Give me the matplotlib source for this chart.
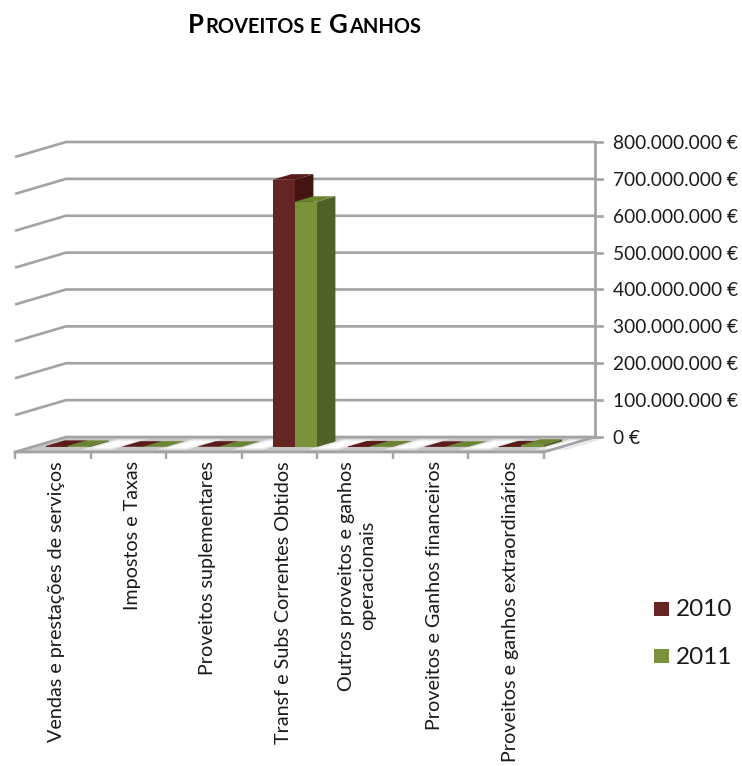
import matplotlib
matplotlib.use('Agg')
import matplotlib.pyplot as plt
from matplotlib.patches import Polygon, Rectangle

plt.rcParams['font.family'] = ['Lato', 'DejaVu Sans']

categories = ['Vendas e prestações de serviços', 'Impostos e Taxas', 'Proveitos suplementares',
              'Transf e Subs Correntes Obtidos', 'Outros proveitos e ganhos\noperacionais',
              'Proveitos e Ganhos financeiros', 'Proveitos e ganhos extraordinários']
values_2010 = [3000000, 800000, 800000, 725000000, 1500000, 500000, 1500000]
values_2011 = [3000000, 800000, 500000, 665000000, 1500000, 500000, 6000000]
y_ticks = [0, 100000000, 200000000, 300000000, 400000000, 500000000, 600000000, 700000000, 800000000]
y_labels = ['0 €', '100.000.000 €', '200.000.000 €', '300.000.000 €', '400.000.000 €',
            '500.000.000 €', '600.000.000 €', '700.000.000 €', '800.000.000 €']

W, H = 742, 766
PX_CAT = 75.57
PX_VAL = 295 / 800000000
# oblique offset of the back wall, in pixels
DEPTH_X, DEPTH_Y = 51, 15

fig = plt.figure(figsize=(W / 100, H / 100), dpi=100)
ax = fig.add_axes([0, 0, 1, 1])
ax.set_xlim(-15 / PX_CAT, (W - 15) / PX_CAT)
ax.set_ylim(-(H - 452) / PX_VAL, 452 / PX_VAL)
ax.axis('off')


def proj(x, v, d):
    return (x + d * DEPTH_X / PX_CAT, v + d * DEPTH_Y / PX_VAL)


def face(points, color, z=2, lw=0):
    ax.add_patch(Polygon([proj(*p) for p in points], closed=True, facecolor=color,
                         edgecolor=color, linewidth=lw, zorder=z))


n = len(categories)
GRID = '#a3a3a3'

# floor
face([(0, 0, 0), (n, 0, 0), (n, 0, 1), (0, 0, 1)], '#c6c6c6', z=1)
bar_w = 22 / PX_CAT
bar_start = 14 / PX_CAT
d0, d1 = 0.33, 0.70
for i in range(n):
    s0 = i + bar_start + 2 * bar_w
    s1 = i + 1 + bar_start
    face([(s0, 0, 0.15), (s1, 0, 0.15), (s1, 0, 0.85), (s0, 0, 0.85)], '#e6e6e6', z=1.1)
    face([(s0 + 0.08, 0, 0.25), (s1 - 0.08, 0, 0.25), (s1 - 0.08, 0, 0.75), (s0 + 0.08, 0, 0.75)], 'white', z=1.2)

# walls
for v in y_ticks:
    a = proj(0, v, 0)
    b = proj(0, v, 1)
    c = proj(n, v, 1)
    ax.plot([a[0], b[0], c[0]], [a[1], b[1], c[1]], color=GRID, lw=1.9, zorder=1.5,
            solid_joinstyle='miter', solid_capstyle='butt')

# front and right floor edges, value axis and ticks
fr = proj(n, 0, 0)
br = proj(n, 0, 1)
fl = proj(0, 0, 0)
ax.plot([fl[0], fr[0], br[0]], [fl[1], fr[1], br[1]], color=GRID, lw=2, zorder=1.6)
top = proj(n, y_ticks[-1], 1)
ax.plot([br[0], top[0]], [br[1], top[1]], color=GRID, lw=2, zorder=1.6)
tick_x = 7 / PX_CAT
for v, lab in zip(y_ticks, y_labels):
    p = proj(n, v, 1)
    ax.plot([p[0], p[0] + tick_x], [p[1], p[1]], color=GRID, lw=1.9, zorder=1.6)
    ax.text(p[0] + 18 / PX_CAT, p[1] - 1.5 / PX_VAL, lab, fontsize=13.8, color='#1a1a1a', ha='left', va='center')
for i in range(n + 1):
    ax.plot([i, i], [0, -7 / PX_VAL], color=GRID, lw=1.7, zorder=1.6, solid_capstyle='butt')


def bar3d(x, v, front, side, cap, z):
    w = x + bar_w
    face([(x, 0, d0), (w, 0, d0), (w, v, d0), (x, v, d0)], front, z=z + 0.2)
    face([(w, 0, d0), (w, 0, d1), (w, v, d1), (w, v, d0)], side, z=z + 0.1)
    face([(x, v, d0), (w, v, d0), (w, v, d1), (x, v, d1)], cap, z=z + 0.1)


for i in range(n):
    x = i + bar_start
    bar3d(x, values_2010[i], '#652523', '#431512', '#5a1c1a', 3)
    bar3d(x + bar_w, values_2011[i], '#7a933a', '#4f6126', '#6a8431', 4)

# rotated category labels
for i, lab in enumerate(categories):
    nudge = 2 if '\n' in lab else 4
    ax.text(i + 0.5 + nudge / PX_CAT, -9 / PX_VAL, lab, rotation=90, fontsize=14.2, color='#1a1a1a',
            ha='center', va='top', multialignment='center', linespacing=1.35)

# legend
for yp, col, lab in [(609, '#652523', '2010'), (656.5, '#7a933a', '2011')]:
    ax.add_patch(Rectangle(((654 - 15) / PX_CAT, (452 - yp - 7) / PX_VAL), 15 / PX_CAT, 14 / PX_VAL,
                           facecolor=col, edgecolor='none'))
    ax.text((676 - 15) / PX_CAT, (452 - yp - 1) / PX_VAL, lab, fontsize=17.5, color='#1a1a1a', ha='left', va='center')

# small caps title, laid out run by run
title = 'Proveitos e Ganhos'
renderer = fig.canvas.get_renderer()
runs = []
for ch in title:
    big = ch.isupper()
    if runs and runs[-1][1] == big and ch != ' ':
        runs[-1][0] += ch
    else:
        runs.append([ch, big])
placed = []
cursor = 0
for txt, big in runs:
    if txt == ' ':
        cursor += 7
        continue
    t = fig.text(0, 1 - 33 / H, txt.upper(), fontsize=18.5 if big else 14.4, fontweight='bold',
                 color='black', ha='left', va='baseline')
    w = t.get_window_extent(renderer).width
    placed.append((t, cursor))
    cursor += w + 0.8
start = 305 - cursor / 2
for t, off in placed:
    t.set_x((start + off) / W)

fig.savefig('out.png', dpi=100, facecolor='white')
